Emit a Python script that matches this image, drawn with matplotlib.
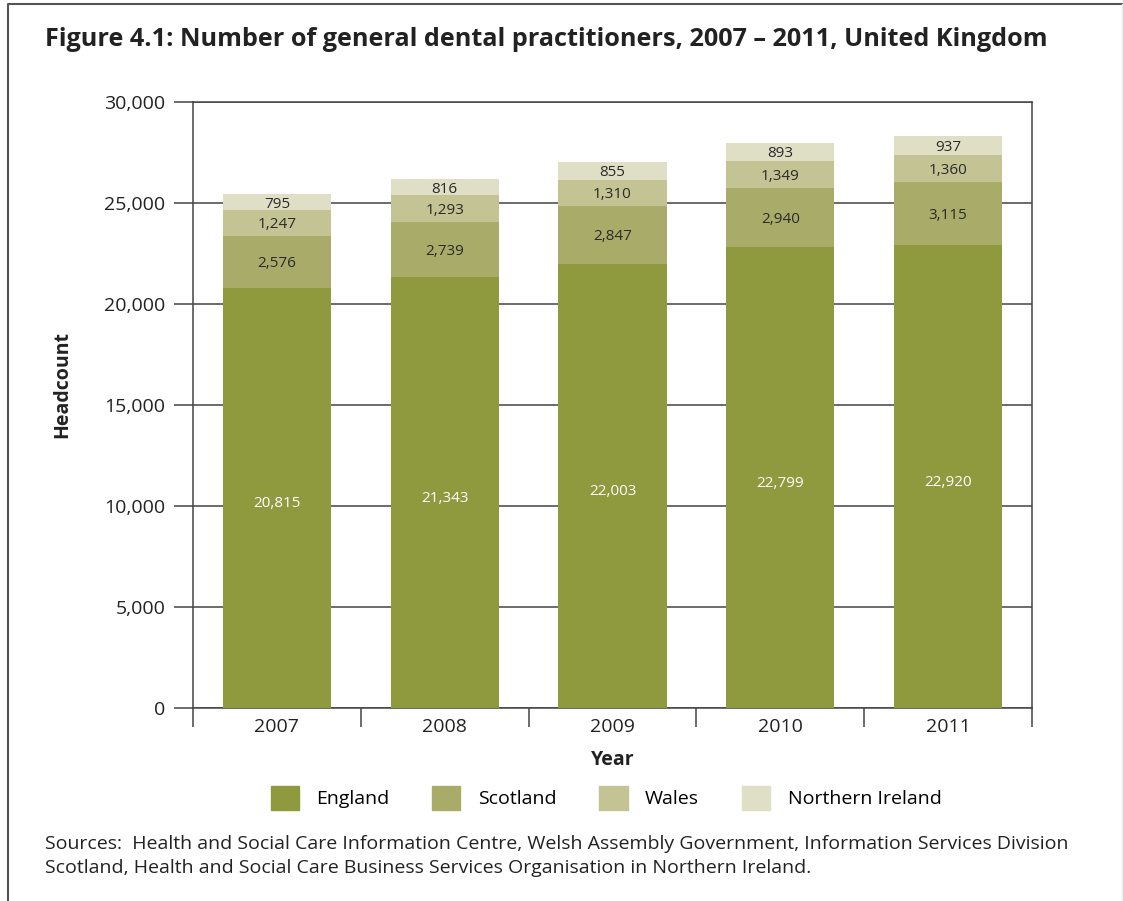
import numpy as np
import matplotlib.pyplot as plt
from matplotlib.lines import Line2D
from matplotlib.patches import Patch

plt.rcParams['font.family'] = ['Open Sans', 'DejaVu Sans']

years = ['2007', '2008', '2009', '2010', '2011']
england = [20815, 21343, 22003, 22799, 22920]
scotland = [2576, 2739, 2847, 2940, 3115]
wales = [1247, 1293, 1310, 1349, 1360]
n_ireland = [795, 816, 855, 893, 937]

series = [('England', england, '#8f9a3e', 'white'),
          ('Scotland', scotland, '#a9ac69', '#2a2a2a'),
          ('Wales', wales, '#c3c394', '#2a2a2a'),
          ('Northern Ireland', n_ireland, '#dfdfc6', '#2a2a2a')]

fig = plt.figure(figsize=(11.23, 9.01), dpi=100)
ax = fig.add_axes([193/1123, 1-708/901, 839/1123, 606/901])

x = np.arange(len(years))
bottom = np.zeros(len(years))
for i, (name, vals, col, tcol) in enumerate(series):
    vals = np.array(vals)
    ax.bar(x, vals, 0.645, bottom=bottom, color=col, zorder=3)
    dy = -3 if i == 0 else 0  # england labels sit a little low
    for xi, b, v in zip(x, bottom, vals):
        ax.annotate(f'{v:,}', (xi, b + v / 2), xytext=(0, dy), textcoords='offset points',
                    ha='center', va='center_baseline', fontsize=11, color=tcol, zorder=4)
    bottom += vals

ax.set_xlim(-0.5, 4.5)
ax.set_ylim(0, 30000)
ax.set_yticks(np.arange(0, 30001, 5000))
ax.set_yticklabels([f'{v:,}' for v in range(0, 30001, 5000)], fontsize=14, color='#222222')
ax.yaxis.grid(True, color='#444444', lw=1.1, zorder=1)
ax.tick_params(axis='y', length=14, width=1.1, color='#444444', pad=6)

ax.set_xticks(x)
ax.set_xticklabels(years, fontsize=14, color='#222222')
ax.tick_params(axis='x', length=0, pad=7)
ax.set_xticks(np.arange(-0.5, 5, 1), minor=True)
ax.tick_params(axis='x', which='minor', length=14, width=1.1, color='#444444')

for s in ax.spines.values():
    s.set_color('#444444')
    s.set_linewidth(1.1)

ax.set_xlabel('Year', fontsize=14, fontweight='bold', color='#222222')
ax.xaxis.set_label_coords(0.5, -(760-708)/606, transform=ax.transAxes)
ax.xaxis.label.set_va('center')
ax.set_ylabel('Headcount', fontsize=14, fontweight='bold', color='#222222')
ax.yaxis.set_label_coords((62-193)/839, (708-384)/606, transform=ax.transAxes)
ax.yaxis.label.set_va('center')

fig.text(45/1123, 1-40/901, 'Figure 4.1: Number of general dental practitioners, 2007 \u2013 2011, United Kingdom',
         fontsize=18.2, fontweight='bold', color='#222222', va='center')

handles = [Patch(color=c) for _, _, c, _ in series]
fig.legend(handles, [n for n, _, _, _ in series], loc='center', bbox_to_anchor=(606/1123, 1-798/901),
           ncol=4, frameon=False, fontsize=14, handlelength=1.45, handleheight=1.45,
           handletextpad=0.9, columnspacing=2.2)

fig.text(45/1123, 1-856/901,
         'Sources:  Health and Social Care Information Centre, Welsh Assembly Government, Information Services Division\n'
         'Scotland, Health and Social Care Business Services Organisation in Northern Ireland.',
         fontsize=14, color='#222222', va='center', linespacing=1.4)

fig.add_artist(Line2D([8/1123, 8/1123, 1122/1123], [0, 1-4/901, 1-4/901], color='#555555', lw=1.5))
fig.add_artist(Line2D([1122/1123, 1122/1123], [0, 1-4/901], color='#eeeeee', lw=1))

fig.savefig('out.png', dpi=100)
